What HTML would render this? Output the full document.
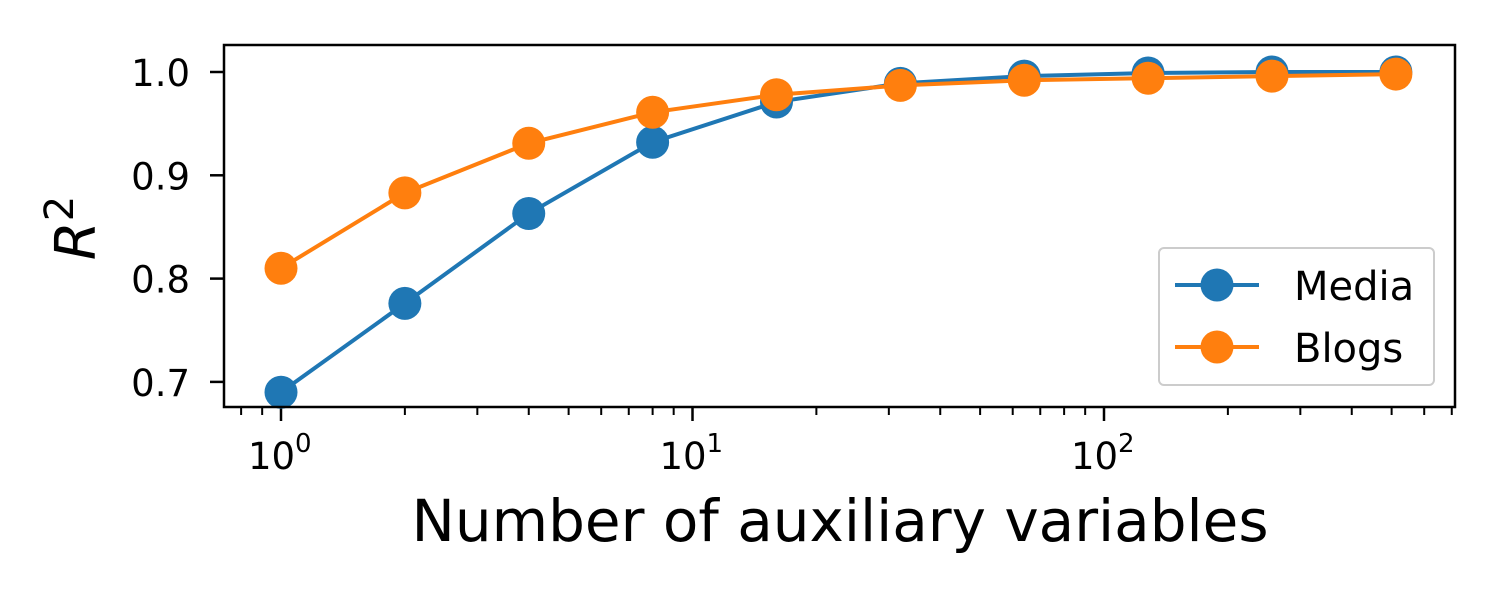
<!DOCTYPE html>
<html><head><meta charset="utf-8"><style>
body{margin:0;background:#fff}
svg text{font-family:"DejaVu Sans","Liberation Sans",sans-serif;fill:#000}
</style></head><body>
<svg id="chart" width="1500" height="600" xmlns="http://www.w3.org/2000/svg">
<g id="plot"></g>
</svg>
<script>
const xValues=[1,2,4,8,16,32,64,128,256,512];
const mediaValues=[0.690,0.776,0.863,0.932,0.971,0.989,0.996,0.999,1.000,1.000];
const blogsValues=[0.810,0.883,0.931,0.961,0.978,0.987,0.992,0.994,0.996,0.998];
const yTicks=[0.7,0.8,0.9,1.0];
const yTickLabels=["0.7","0.8","0.9","1.0"];
const xDecades=[0,1,2];

const L=224,R=1455,T=45,B=407;
const X0=281,DEC=411.5;
const sx=v=>X0+Math.log10(v)*DEC;
const sy=v=>72+(1.0-v)*1033;
const NS="http://www.w3.org/2000/svg";
const g=document.getElementById('plot');
function mk(tag,attrs,parent){const e=document.createElementNS(NS,tag);for(const k in attrs)e.setAttribute(k,attrs[k]);(parent||g).appendChild(e);return e;}

yTicks.forEach((v,i)=>{
  const t=mk('line',{x1:L-14,x2:L,y1:sy(v),y2:sy(v),stroke:'#000','stroke-width':2.5});
  
  
  const tx=mk('text',{x:L-34,y:sy(v)+14,'text-anchor':'end','font-size':37});
  tx.textContent=yTickLabels[i];
  
  
});
for(let d=-1;d<=2;d++){
  for(let m=1;m<=9;m++){
    const v=m*Math.pow(10,d);const x=sx(v);
    if(x<L||x>R)continue;
    const major=m===1;
    const t=mk('line',{x1:x,x2:x,y1:B,y2:B+(major?14:8),stroke:'#000','stroke-width':major?2.5:2});
    
    
  }
}
xDecades.forEach(d=>{
  const x=sx(Math.pow(10,d));
  const tx=mk('text',{x:x-33,y:469,'font-size':37});
  tx.textContent='10';
  
  
  const sup=mk('text',{x:x+14,y:452,'font-size':26});
  sup.textContent=String(d);
  
  
});

function series(vals,color,name){
  const pts=xValues.map((x,i)=>sx(x)+','+sy(vals[i])).join(' ');
  const pl=mk('polyline',{points:pts,fill:'none',stroke:color,'stroke-width':4});
  
  
  xValues.forEach((x,i)=>{
    const c=mk('circle',{cx:sx(x),cy:sy(vals[i]),r:16.5,fill:color});
    
    
  });
}
series(mediaValues,'#1f77b4','media');
series(blogsValues,'#ff7f0e','blogs');

const frame=mk('rect',{x:L,y:T,width:R-L,height:B-T,fill:'none',stroke:'#000','stroke-width':2.5});



const lg=mk('g',{});


mk('rect',{x:1159,y:248,width:275,height:137,rx:5,fill:'#fff','fill-opacity':0.8,stroke:'#ccc','stroke-width':2},lg);
[['Media','#1f77b4',285],['Blogs','#ff7f0e',347]].forEach(([n,c,y])=>{
  const e=mk('g',{},lg);
  
  
  mk('line',{x1:1175,x2:1259,y1:y,y2:y,stroke:c,'stroke-width':4},e);
  mk('circle',{cx:1217,cy:y,r:16.5,fill:c},e);
  const t=mk('text',{x:1294,y:y+15,'font-size':40},e);t.textContent=n;
});

const xl=mk('text',{x:840,y:541,'text-anchor':'middle','font-size':58});
xl.textContent='Number of auxiliary variables';


const yl=mk('text',{x:0,y:0,'text-anchor':'middle','font-size':56,'font-style':'italic',transform:'translate(95,228) rotate(-90)'});
yl.innerHTML='R<tspan dy="-22" font-size="40" font-style="normal">2</tspan>';


</script>
</body></html>
